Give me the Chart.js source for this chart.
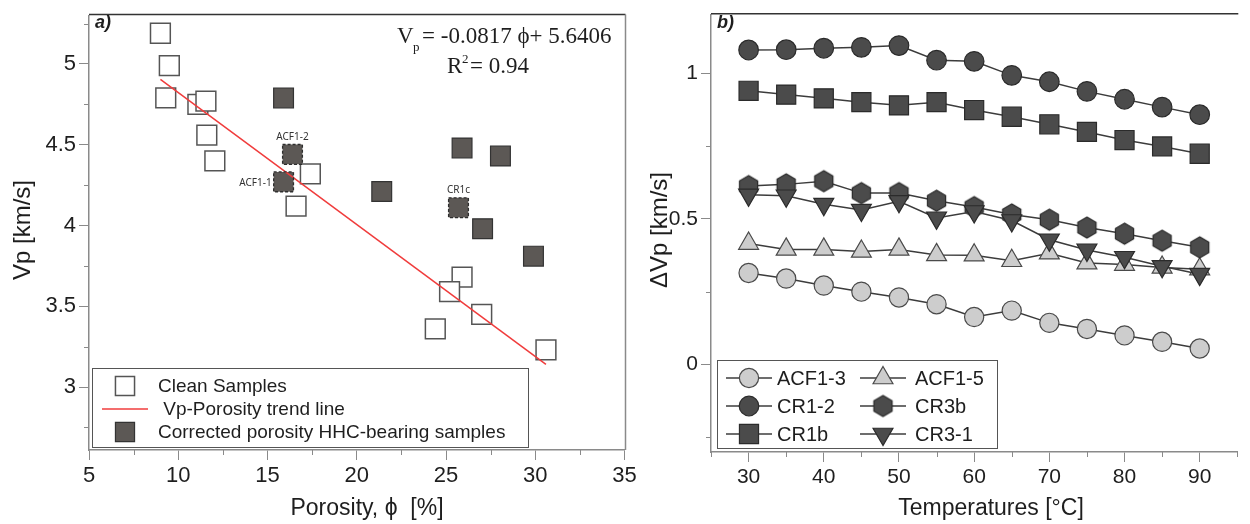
<!DOCTYPE html>
<html>
<head>
<meta charset="utf-8">
<script src="https://cdn.jsdelivr.net/npm/chart.js@4.4.1/dist/chart.umd.min.js"></script>
<style>
  html, body { margin: 0; padding: 0; background: #fff; overflow: hidden; width: 1250px; height: 524px; }
  .panel { position: absolute; top: 0; height: 524px; }
</style>
</head>
<body>
<div class="panel" style="left:0;width:640px"><canvas id="chartPorosity"></canvas></div>
<div class="panel" style="left:640px;width:612px"><canvas id="chartTemp"></canvas></div>
<script>
// a) Vp vs porosity
const cleanPorosity = [9.0, 9.5, 9.3, 11.1, 11.55, 11.6, 12.05, 16.6, 17.4, 25.9, 25.2, 27.0, 24.4, 30.6];
const cleanVp       = [5.19, 4.99, 4.79, 4.75, 4.77, 4.56, 4.40, 4.12, 4.32, 3.68, 3.59, 3.45, 3.36, 3.23];
const hhcPorosity   = [15.9, 25.9, 28.05, 21.4, 27.05, 29.9];
const hhcVp         = [4.79, 4.48, 4.43, 4.21, 3.98, 3.81];
const flaggedNames    = ['ACF1-2', 'ACF1-1', 'CR1c'];
const flaggedPorosity = [16.4, 15.9, 25.7];
const flaggedVp       = [4.44, 4.27, 4.11];
const flaggedSide     = ['top', 'left', 'top'];
const trendPorosity = [9.0, 30.6];
const trendVp       = [4.905, 3.14];
const porosityTicks = [5, 10, 15, 20, 25, 30, 35];
const vpTicks       = [3, 3.5, 4, 4.5, 5];

// b) delta Vp vs temperature
const temperatures = [30, 35, 40, 45, 50, 55, 60, 65, 70, 75, 80, 85, 90];
const dvpACF13 = [0.314, 0.295, 0.271, 0.250, 0.230, 0.207, 0.163, 0.185, 0.143, 0.122, 0.100, 0.078, 0.055];
const dvpACF15 = [0.415, 0.395, 0.395, 0.388, 0.395, 0.376, 0.375, 0.356, 0.382, 0.348, 0.343, 0.333, 0.327];
const dvpCR12  = [1.079, 1.080, 1.085, 1.088, 1.094, 1.044, 1.040, 0.992, 0.970, 0.937, 0.910, 0.883, 0.857];
const dvpCR3b  = [0.612, 0.618, 0.629, 0.588, 0.588, 0.562, 0.540, 0.515, 0.497, 0.470, 0.449, 0.425, 0.402];
const dvpCR1b  = [0.939, 0.926, 0.913, 0.900, 0.889, 0.900, 0.873, 0.850, 0.824, 0.798, 0.770, 0.748, 0.723];
const dvpCR31  = [0.582, 0.579, 0.550, 0.530, 0.560, 0.503, 0.525, 0.494, 0.428, 0.393, 0.368, 0.337, 0.310];
const tempTicks = [30, 40, 50, 60, 70, 80, 90];
const dvpTicks  = [0, 0.5, 1];

const SANS = '"Liberation Sans", Arial, sans-serif';
const SERIF = '"Liberation Serif", "Times New Roman", serif';
const AXIS = '#8a8a8a';
const DARK = '#4b4b4b';
const LIGHT = '#cdcdcd';

const pts = (xs, ys) => xs.map((x, i) => ({ x, y: ys[i] }));

function hexagonMarker(r, fill, stroke) {
  const c = document.createElement('canvas');
  const s = Math.ceil(r * 2 + 4);
  c.width = c.height = s;
  const g = c.getContext('2d');
  g.beginPath();
  for (let k = 0; k < 6; k++) {
    const a = Math.PI / 2 + k * Math.PI / 3;
    const px = s / 2 + r * Math.cos(a), py = s / 2 - r * Math.sin(a);
    if (k) g.lineTo(px, py); else g.moveTo(px, py);
  }
  g.closePath();
  g.fillStyle = fill; g.fill();
  g.lineWidth = 1.2; g.strokeStyle = stroke; g.stroke();
  return c;
}

// minor ticks, frame, free text, legend box
const decorPlugin = {
  id: 'decor',
  afterDraw(chart, args, o) {
    const ctx = chart.ctx, a = chart.chartArea;
    const sx = chart.scales.x, sy = chart.scales.y;
    ctx.save();
    ctx.strokeStyle = AXIS; ctx.lineWidth = 1;
    for (let v = Math.ceil(sx.min / o.minorX) * o.minorX; v <= sx.max + 1e-9; v += o.minorX) {
      if (Math.abs(v / o.majorX - Math.round(v / o.majorX)) < 1e-6) continue;
      const px = Math.round(sx.getPixelForValue(v)) + 0.5;
      ctx.beginPath(); ctx.moveTo(px, a.bottom); ctx.lineTo(px, a.bottom + 5); ctx.stroke();
    }
    for (let v = Math.ceil(sy.min / o.minorY) * o.minorY; v <= sy.max + 1e-9; v += o.minorY) {
      if (Math.abs(v / o.majorY - Math.round(v / o.majorY)) < 1e-6) continue;
      const py = Math.round(sy.getPixelForValue(v)) + 0.5;
      ctx.beginPath(); ctx.moveTo(a.left - 5, py); ctx.lineTo(a.left, py); ctx.stroke();
    }
    // frame
    ctx.strokeStyle = '#333'; ctx.lineWidth = 1.5;
    ctx.beginPath(); ctx.moveTo(a.left, a.top - 1); ctx.lineTo(a.right + 1, a.top - 1); ctx.stroke();
    if (o.rightBorder) {
      ctx.strokeStyle = AXIS;
      ctx.beginPath(); ctx.moveTo(a.right + 1, a.top - 1); ctx.lineTo(a.right + 1, a.bottom); ctx.stroke();
    }
    // texts
    ctx.fillStyle = '#1e1e1e';
    ctx.font = 'italic bold 18px ' + SANS;
    ctx.textAlign = 'left'; ctx.textBaseline = 'alphabetic';
    ctx.fillText(o.panel, a.left + 6, 28);
    ctx.font = '23px ' + SANS; ctx.textAlign = 'center';
    ctx.fillText(o.xTitle, o.xTitleX, 515);
    ctx.save();
    ctx.translate(o.yTitleX, 230); ctx.rotate(-Math.PI / 2);
    ctx.textBaseline = 'middle'; ctx.font = '24px ' + SANS;
    ctx.fillText(o.yTitle, 0, 0);
    ctx.restore();
    if (o.extra) o.extra(chart, ctx);
    // legend
    const L = o.legend;
    ctx.lineWidth = 1; ctx.strokeStyle = '#555'; ctx.fillStyle = '#fff';
    ctx.fillRect(L.box[0], L.box[1], L.box[2] - L.box[0], L.box[3] - L.box[1]);
    ctx.strokeRect(L.box[0] + 0.5, L.box[1] + 0.5, L.box[2] - L.box[0], L.box[3] - L.box[1]);
    L.items.forEach(it => {
      const ds = chart.data.datasets[it.ds];
      if (it.line) {
        ctx.strokeStyle = ds.borderColor; ctx.lineWidth = ds.borderWidth || 1.5;
        ctx.beginPath(); ctx.moveTo(it.x - it.half, it.y); ctx.lineTo(it.x + it.half, it.y); ctx.stroke();
      }
      if (it.marker) {
        ctx.fillStyle = ds.pointBackgroundColor; ctx.strokeStyle = ds.pointBorderColor;
        ctx.lineWidth = ds.pointBorderWidth;
        Chart.helpers.drawPoint(ctx, {
          pointStyle: ds.pointStyle, rotation: ds.pointRotation || 0,
          radius: it.r || ds.pointRadius, borderWidth: ds.pointBorderWidth
        }, it.x, it.y);
      }
      ctx.fillStyle = '#1e1e1e'; ctx.font = L.font;
      ctx.textAlign = 'left'; ctx.textBaseline = 'middle';
      ctx.fillText(it.text, it.tx, it.y + 1);
    });
    ctx.restore();
  }
};

function axes(xmin, xmax, xticks, ymin, ymax, yticks, yWidth, xHeight, fontSize) {
  const common = {
    type: 'linear',
    border: { display: true, color: AXIS, width: 1.5 },
    grid: { drawOnChartArea: false, drawTicks: true, tickLength: 10, color: AXIS, lineWidth: 1 },
    ticks: { color: '#1e1e1e', font: { family: SANS, size: fontSize }, padding: 3, autoSkip: false, maxRotation: 0,
             callback: v => String(v) }
  };
  return {
    x: { ...common, min: xmin, max: xmax,
         afterBuildTicks: s => { s.ticks = xticks.map(v => ({ value: v })); },
         afterFit: s => { s.height = xHeight; s.paddingLeft = 0; s.paddingRight = 0; } },
    y: { ...common, min: ymin, max: ymax,
         afterBuildTicks: s => { s.ticks = yticks.map(v => ({ value: v })); },
         afterFit: s => { s.width = yWidth; s.paddingTop = 0; s.paddingBottom = 0; } }
  };
}

// ---------- panel a
const clean = {
  label: 'Clean Samples', type: 'scatter', data: pts(cleanPorosity, cleanVp), order: 3,
  pointStyle: 'rect', pointRadius: 14, pointBackgroundColor: '#fff', pointBorderColor: '#555', pointBorderWidth: 1.5
};
const trend = {
  label: 'Vp-Porosity trend line', type: 'line', data: pts(trendPorosity, trendVp), order: 0,
  borderColor: '#f03c3c', borderWidth: 1.5, pointRadius: 0, pointStyle: 'line', fill: false
};
const hhc = {
  label: 'Corrected porosity HHC-bearing samples', type: 'scatter', data: pts(hhcPorosity, hhcVp), order: 2,
  pointStyle: 'rect', pointRadius: 14, pointBackgroundColor: '#5c5855', pointBorderColor: '#333', pointBorderWidth: 1.2
};
const flagged = {
  label: 'flagged', type: 'scatter', data: pts(flaggedPorosity, flaggedVp), order: 1,
  pointStyle: 'rect', pointRadius: 14, pointBackgroundColor: '#5c5855', pointBorderColor: 'rgba(0,0,0,0)', pointBorderWidth: 0
};

function drawEquationAndFlags(chart, ctx) {
  ctx.fillStyle = '#1e1e1e'; ctx.textAlign = 'left'; ctx.textBaseline = 'alphabetic';
  ctx.font = '23px ' + SERIF;
  ctx.fillText('V', 397, 43);
  ctx.fillText('= -0.0817 \u03D5+ 5.6406', 422, 43);
  ctx.fillText('R', 447, 73);
  ctx.fillText('= 0.94', 470, 73);
  ctx.font = '13px ' + SERIF;
  ctx.fillText('p', 413, 51);
  ctx.fillText('2', 462, 63);
  // dashed outlines + names of the flagged samples
  const meta = chart.getDatasetMeta(3);
  meta.data.forEach((el, i) => {
    const h = 14 * Math.SQRT1_2;
    ctx.save();
    ctx.setLineDash([3, 2]); ctx.strokeStyle = '#2e2e2e'; ctx.lineWidth = 1.3;
    ctx.strokeRect(el.x - h, el.y - h, 2 * h, 2 * h);
    ctx.restore();
    ctx.font = '10px "Noto Sans", "Open Sans", sans-serif'; ctx.fillStyle = '#333';
    if (flaggedSide[i] === 'top') {
      ctx.textAlign = 'center'; ctx.fillText(flaggedNames[i], el.x, el.y - h - 5);
    } else {
      ctx.textAlign = 'right'; ctx.fillText(flaggedNames[i], el.x - h - 2, el.y + 4);
    }
  });
}

new Chart(document.getElementById('chartPorosity'), {
  type: 'scatter',
  data: { datasets: [clean, trend, hhc, flagged] },
  options: {
    responsive: true, maintainAspectRatio: false, animation: false,
    layout: { padding: { top: 8, right: 11, left: 0, bottom: 0 } },
    scales: axes(5, 35, porosityTicks, 2.61, 5.3, vpTicks, 89, 74, 22),
    plugins: {
      legend: { display: false }, tooltip: { enabled: false },
      decor: {
        minorX: 2.5, majorX: 5, minorY: 0.25, majorY: 0.5, rightBorder: true, panel: 'a)',
        xTitle: 'Porosity, \u03D5  [%]', xTitleX: 367, yTitle: 'Vp [km/s]', yTitleX: 23,
        extra: drawEquationAndFlags,
        legend: {
          box: [92, 368, 528, 447], font: '19px ' + SANS,
          items: [
            { ds: 0, marker: true, r: 13.5, x: 125, y: 386, tx: 158, text: 'Clean Samples' },
            { ds: 1, line: true, half: 23, x: 125, y: 409, tx: 158, text: ' Vp-Porosity trend line' },
            { ds: 2, marker: true, r: 13.5, x: 125, y: 432, tx: 158, text: 'Corrected porosity HHC-bearing samples' }
          ]
        }
      }
    }
  },
  plugins: [decorPlugin]
});

// ---------- panel b
function series(label, values, style, radius, fill, order, rotation) {
  return {
    label, data: pts(temperatures, values), order,
    borderColor: '#3c3c3c', borderWidth: 1.5, fill: false, tension: 0,
    pointStyle: style, pointRadius: radius, pointRotation: rotation || 0,
    pointBackgroundColor: fill, pointBorderColor: fill === LIGHT ? '#4a4a4a' : '#2b2b2b', pointBorderWidth: 1.2
  };
}
const hexMark = hexagonMarker(10.5, DARK, '#2b2b2b');
const tempSets = [
  series('ACF1-3', dvpACF13, 'circle', 9.6, LIGHT, 6),
  series('ACF1-5', dvpACF15, 'triangle', 11.5, LIGHT, 5),
  series('CR1-2', dvpCR12, 'circle', 9.8, DARK, 3),
  series('CR3b', dvpCR3b, hexMark, 10.5, DARK, 2),
  series('CR1b', dvpCR1b, 'rect', 13.5, DARK, 4),
  series('CR3-1', dvpCR31, 'triangle', 11.5, DARK, 1, 180)
];

new Chart(document.getElementById('chartTemp'), {
  type: 'line',
  data: { datasets: tempSets },
  options: {
    responsive: true, maintainAspectRatio: false, animation: false,
    layout: { padding: { top: 8, right: 0, left: 0, bottom: 0 } },
    scales: axes(25, 95, tempTicks, -0.3, 1.2, dvpTicks, 71, 72, 21),
    plugins: {
      legend: { display: false }, tooltip: { enabled: false },
      decor: {
        minorX: 5, majorX: 10, minorY: 0.25, majorY: 0.5, rightBorder: false, panel: 'b)',
        xTitle: 'Temperatures [\u00B0C]', xTitleX: 351, yTitle: '\u0394Vp [km/s]', yTitleX: 20,
        legend: {
          box: [77, 360, 357, 448], font: '20px ' + SANS,
          items: tempSets.map((d, i) => ({
            ds: i, line: true, marker: true, half: 23,
            x: i % 2 ? 243 : 109, y: 378 + Math.floor(i / 2) * 28,
            tx: i % 2 ? 275 : 137, text: d.label
          }))
        }
      }
    }
  },
  plugins: [decorPlugin]
});
</script>
</body>
</html>
